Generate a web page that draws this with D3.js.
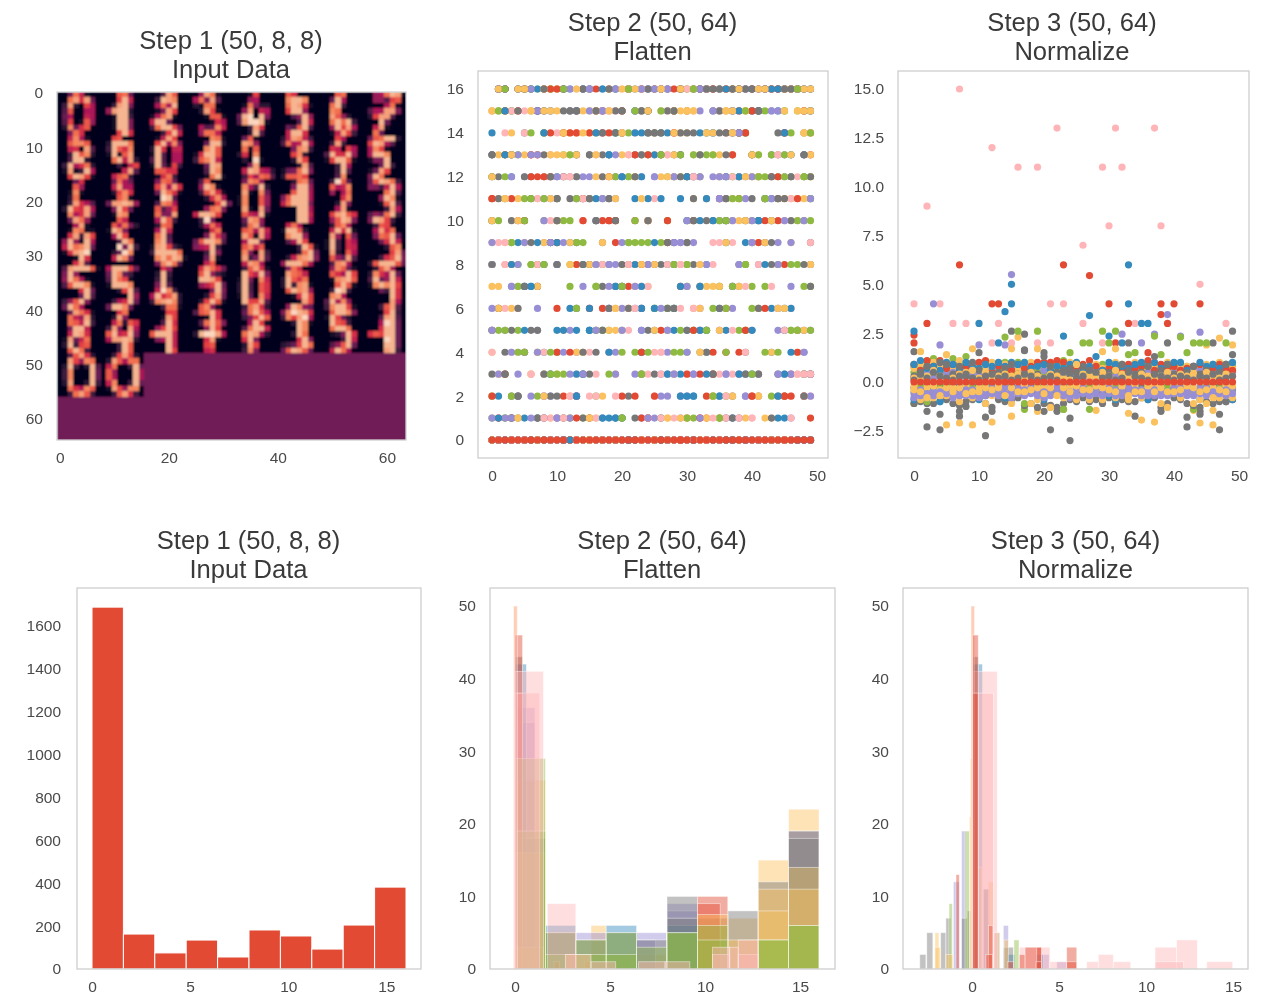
<!DOCTYPE html>
<html><head><meta charset="utf-8">
<script src="https://cdn.jsdelivr.net/npm/d3@7"></script>
<style>
html,body{margin:0;padding:0;background:#fff}
svg{display:block;filter:blur(0.4px)}
text{font-family:"Liberation Sans",Arial,sans-serif}
.tick text{font-size:15.5px;fill:#4a4a4a}
.title{font-size:25.6px;fill:#3a3a3a;text-anchor:middle}
</style></head><body>
<svg id="c" width="1267" height="1004"></svg>
<script>
// ---------- DATA ----------
const digits = [
"005d9100 00dfaf50 03f20b80 04c00880 05800980 04b01c70 02e5ac00 006da000",
"000cd500 000bg900 003fg600 07fgg200 001gg300 001gg600 001gg600 000bga00",
"0004fc00 003gfe00 008d8g00 0016fb00 018df100 09gg5000 03dggb50 0003bg90",
"007fd100 08d6f400 021dd000 002fb100 0001cc10 00001a80 00845e90 007dd900",
"0001b000 00078000 001d6220 007f0980 05ga0g60 04fgdg10 0003fa00 0002g400",
"00ca0000 00egge00 00dgfa10 00bgg700 00047g70 00004g90 0054cg40 009gga00",
"000cd000 005g8000 00dg3000 00ed0000 00fc7200 00dgdg30 007gbf80 0019fb30",
"0078dgf1 00774bc0 00008d10 0488ff60 02bff400 000g5000 009f1000 00d50000",
"009e8100 00ceec00 009a0f40 003gce20 004gg200 03g8ad20 01f13g80 00bgfb10",
"00bc0000 02gggd00 03gcae00 01g1cf00 00dg9f20 000309b0 00009f40 009cd300",
"0019fb00 00bg8e60 02ga0990 01g40880 04g40880 01g51b30 00ccaa00 001ad300",
"0000ed10 0005gg20 000egc00 01aggc00 03ceg900 0005gf00 0004ge00 0001dg10",
"005c1000 00fe7000 00d1c000 02a0e000 0020g100 0006f000 009gf982 003b8dc4",
"029fe930 04d89g80 0006ef30 000be200 0002fb00 00002f40 0156dg60 02ccdb00",
"000b8000 003f3000 00a90b80 04gaag70 01bggc10 0003g800 0003g400 0004e000",
"05cdgg20 0bgf8400 08eb1000 08gge000 0166g000 0005g300 015fb000 06gd1000",
"0005a000 000c7000 001e1000 002d0000 003fa840 02gbaf80 00e8af50 005fd700",
"005d8500 009f8800 002bea00 000ce100 05ffgf70 006gb500 001fe000 000c9000",
"006dc500 00bf8fa0 005gda10 000gg400 004ed800 00c47b00 00d66f00 008gc300",
"004c0000 007ge100 003cfa10 0002ae80 00001bg5 0007de60 09ggfb00 003a6000",
"006ed700 00e84g20 00f10e50 01e00c70 01e00c70 00f10f50 00c98g10 005fe700",
"0002de50 0006gg70 000cgg80 06cggg80 09dggg60 0000gg80 0000gg90 0000gg80",
"003dc400 00c89e00 00708d00 0000ae00 0002f600 0008f100 00bfgca0 007cgf60",
"05cgfd30 06639g80 0000dg40 0007ge10 0001cg40 00003f80 0475dg30 06gfb300",
"0008f100 001ed110 00af3fb0 07g71g80 09gdeg50 01afge00 0001ga00 000af400",
"00c8d620 01ge6000 008gb000 0004gd00 00006g30 0025ce00 009ge500 00000000",
"002dc000 008g9000 00dg4000 00eg5000 01fgb310 03ggggd0 00egdgf1 006egd40",
"0028d900 0001ad00 0006fa50 05cgge40 0689g300 0003g600 0005f100 0009c000",
"003df600 00cd8f90 00fc1f80 008gg500 00ce9c00 00e60f30 00f36f40 009fe800",
"009d8000 01ggc200 00egg700 0048gb00 00003gc1 00002dg5 0029efg6 07gggd80",
"002ce800 009gag10 00f70c50 01g30a80 01g30a90 00f20c80 00c75f40 004ef800",
"003cb100 008fad00 006dcg50 0005ag90 00002ce0 00000bf5 0003acg6 02cgggc5",
"04fgggc1 06g70000 07gd8100 04cgge10 0000ag50 00005g40 037cg600 05gd8000",
"08gggb50 05ge5300 04gdb100 01ggge00 0002bg40 00000g70 0038ag50 05gge500",
"000a7000 002g3000 003g2000 006g4000 009ge300 08gacf20 03efge20 0003dd10",
"00afda50 00cg7310 00ggfb00 0079bg50 00006g60 0002bf50 002bgc10 00ce7100",
"003cfa10 00gb9g60 01g60e90 02g40ca0 02g40ca0 01g50e90 00gbbf40 003dfa20",
"006da000 00fdc900 02gcad00 02g3ef10 00cgef70 0001agb0 00001fb0 007ge750",
"007ec510 00ca8gb0 001efgc0 000cgc10 003fg300 00ef8000 04g8e700 03eggb10",
"002cf800 02ea8g50 04g57g90 01egegb0 00053ga0 00000ga0 00000f80 0003cf40",
"005fda10 00d97f20 00dc9g30 006gg900 009gfa00 01f59d00 02g3bc00 00cgd300",
"000ad000 002f6000 009d2ca0 03f60f80 0cg9ag60 08ffgf20 0003gc00 0003gc00",
"0000bb00 0001fb00 0004ga00 007bgb00 0cggg900 0068g900 0000g900 0000gb00",
"04cdga00 0001ga00 004dgc60 0007gb00 02gggf80 000af100 000bc000 0009a000",
"005dgc80 0036bgc0 0008gb10 004dgg90 00dgf820 00ag6000 002fb000 003e6000",
"06eggfa0 03ebfg80 0002ge10 0000ge00 0002gd00 0000ag60 0235bgd0 05cgfc50",
"00cgge60 01gb5200 00gcb300 00dggd00 00126ga0 00003g90 0047cg50 009gd800",
"0000bg30 0004fg40 0008gg50 000agg50 0acbgg50 0000gg50 0000gg50 0000fg30",
"004cfa20 00fb7ed0 02g302g4 03e000g5 03e000g5 02f002g3 00da8ec0 003dfc30",
"003bfb20 02fc8dd0 09d003g5 0c7000g8 0c8000g8 09e003g5 01fb7ee0 003cfa30"
];
// the few palest cells of the image [row, column]
const palestCells = [[4,35],[5,35],[5,36],[12,36],[19,19],[23,27],[29,5],[28,11],[29,12],[16,51],[42,60],[45,60],[44,27],[44,28],[40,43],[41,45],[36,51],[36,19]];
const colorTop = 18.6;   // value that would reach the top of the palette
const fillValue = 5.3;
const palestValue = 17.6;
const cycle = ["#E24A33","#348ABD","#988ED5","#777777","#FBC15E","#8EBA42","#FFB5B8"];
const rocketStops = [0,.143,.286,.429,.571,.714,.857,1];
const rocketColors = ["#03051a","#35193e","#701f57","#ad1759","#e13342","#f37651","#f6b48f","#faebdd"];

const titles = [["Step 1 (50, 8, 8)","Input Data"],["Step 2 (50, 64)","Flatten"],["Step 3 (50, 64)","Normalize"]];

// Step 3 scatter: dense band, one value per sample per layer (read by eye)
const bandGrayLow = [-1.1,-1,-1.1,-1.1,-1,-.9,-1.1,-1.2,-1,-.9,-.8,-1.1,-1.3,-.9,-1,-.9,-.8,-1.2,-1.1,-1.3,-1.1,-1.2,-1.3,-1.1,-.9,-1,-.8,-1,-.9,-1.1,-.8,-1.1,-.9,-1,-1,-.8,-.9,-.8,-1.3,-1.1,-.8,-.9,-1.1,-1.2,-1.3,-1,-1.1,-1,-1,-.9];
const bandRedHigh = [.9,.6,1.1,.8,1.1,.7,.9,.6,.8,.7,1,1.1,.5,.8,.7,.6,.9,.7,.8,1,1,1,1.1,1,.6,.7,.9,1.1,.8,.6,.7,.8,.6,.9,.7,.8,1.1,.6,.9,.7,.8,.6,.7,.8,.9,.6,.7,.9,.7,.6];
const bandBlueHigh = [.9,1.1,.7,.8,.6,1,.9,.7,1,.8,.7,.9,.8,1,.8,1,.9,1,.7,.8,.9,.6,.8,.7,.9,1,.7,.8,1.3,.6,1,.9,.8,.7,.9,1,.8,1,.7,.9,1,1,.6,.8,1,.8,.9,.7,.9,1];
const bandGrayHigh = [.3,.5,.8,.6,1,.9,.4,.8,.3,1,.6,.3,.3,.5,.7,.9,.4,1.6,.5,.4,1.3,.8,.5,.6,.4,.5,.8,.6,.4,.3,.5,.6,.9,.6,.4,.5,.8,1.3,.6,.9,.4,.3,.5,.8,.4,.6,.3,.5,.9,1.4];
const bandGreenHigh = [.5,.4,1,1.2,.4,.5,1.2,.6,1.3,.5,.3,.4,.7,.9,.6,.5,1,.4,.7,.6,.5,.8,.6,1.1,.4,.7,.5,.4,.3,.6,.5,.7,.4,1.4,.5,.6,.9,.5,1.4,.4,.6,.8,.5,.6,.7,.5,.4,.5,.9,.6];
const bandOrangeHigh = [.2,.1,.3,.6,.3,1.4,.2,.4,.5,.6,.2,.5,.2,.3,.4,.3,.4,.2,.5,.3,.2,.4,.3,.2,.1,.9,.4,.3,.2,.5,.3,.6,.4,.3,.2,.4,.3,.2,.3,.5,.2,.4,.3,.4,.2,.5,.3,.2,.4,.3];
const bandPurpleLow = [-.6,-.7,-.6,-.5,-.5,-.4,-.6,-.5,-.7,-.4,-.6,-.5,-.3,-.4,-.6,-.5,-.3,-.4,-.6,-.4,-.5,-.7,-.6,-.5,-.8,-.4,-.6,-.5,-.3,-.7,-.6,-.4,-.5,-.3,-.6,-.4,-.5,-.7,-.4,-.5,-.6,-.3,-.5,-.4,-.6,-.3,-.5,-.6,-.7,-.6];
const bandOrangeLow = [-.2,-.9,-.3,-.8,-.4,-.7,-.3,-1,-.2,-.8,-.3,-1.1,-.7,-.2,-.4,-1.1,-.3,-.2,-1.1,-.9,-.3,-1.3,-.2,-.8,-.3,-.9,-.2,-.9,-.3,-.9,-.2,-.8,-.3,-.9,-.2,-.8,-.3,-.2,-1.1,-1.3,-.2,-.8,-.3,-1.1,-.9,-1.1,-.3,-.8,-.2,-.8];
const bandGreenLow = [-.5,-.2,-1,-.2,-.3,-.2,-.3,-.4,-.2,-.3,-.4,-.2,-.3,-.5,-.2,-.5,-.3,-1.1,-.4,-.2,-.3,-.4,-.3,-1.4,-.2,-.3,-.4,-.3,-.4,-.3,-.2,-.3,-.4,-.2,-.3,-.4,-.2,-.3,-.4,-.2,-.3,-.2,-.4,-.5,-.3,-.2,-.4,-.3,-.2,-.3];
const bandBlueLow = [-.9,-.3,-.4,-.3,-1,-.2,-.4,-.2,-.4,-.3,-.9,-.4,-.2,-.3,-.8,-.3,-.4,-.3,-.2,-.4,-.9,-.3,-.4,-.2,-.4,-.3,-.4,-.3,-.4,-.2,-.7,-.9,-.3,-.4,-.3,-.2,-.9,-.3,-.4,-.3,-.4,-.3,-.2,-.4,-.9,-.3,-.4,-.3,-.4,-.9];
const bandGrayMid = [.1,.4,.2,.5,.3,.2,.1,.3,.4,.2,.1,.3,.4,.2,.3,.1,.2,.4,.3,.1,.2,.3,.1,.5,.7,.2,.3,.6,.5,.2,.3,.1,.2,.5,.3,.2,.1,.4,.3,.2,.1,.3,.2,.1,.3,.2,.4,.1,.2,.3];
const bandOrangeUpper = [.7,.9,.6,1,.8,.9,.7,1.1,.6,.8,.9,.7,1,.8,.9,.7,.6,.9,1,.8,.7,.9,.8,.6,1,.9,.7,.8,.9,.7,.8,1,.7,.8,1,.9,.6,.8,.7,1,.9,.7,.8,.6,.8,.9,.7,1,.8,.7];
const bandGreenUpper = [.8,.7,.9,.4,.9,.6,.8,.9,.8,.6,.8,.6,.9,.6,1,.8,.6,.8,.5,.9,.8,.5,.9,.8,.7,.4,.8,.7,.6,.9,.8,.4,.9,.7,.6,.7,.5,.9,.7,.6,.7,.9,.8,.5,.8,.7,.9,.6,.6,.8];
const bandPurpleUpper = [.2,.3,.5,.2,.6,.4,.5,.2,.6,.3,.5,.2,.6,.3,.2,.7,.3,.5,.2,.3,.6,.2,.4,.3,.5,.3,.2,.2,.6,.4,.2,.3,.6,.2,.6,.3,.5,.4,.2,.3,.5,.6,.2,.3,.6,.3,.5,.7,.3,.5];
const bandPurpleLower = [-.8,-.4,-.8,-.7,-.7,-.6,-.8,-.7,-.4,-.7,-.8,-.7,-.6,-.7,-.3,-.8,-.6,-.7,-.3,-.7,-.8,-.4,-.3,-.7,-.5,-.7,-.3,-.7,-.6,-.4,-.3,-.7,-.7,-.6,-.4,-.7,-.7,-.4,-.7,-.7,-.3,-.6,-.7,-.7,-.3,-.7,-.7,-.4,-.4,-.3];
const bandGrayNeg = [-.3,-.5,-.2,-.6,-.2,-.3,-.2,-.7,-.5,-.2,-.2,-.7,-.5,-.6,-.4,-.2,-.6,-.3,-.2,-.6,-.2,-.5,-.5,-.3,-.6,-.5,-.5,-.2,-.6,-.5,-.4,-.2,-.6,-.5,-.5,-.3,-.3,-.5,-.2,-.3,-.5,-.5,-.6,-.3,-.4,-.5,-.2,-.2,-.3,-.4];
const bandOrangeLower = [-.4,-.5,-.8,-.2,-.7,-.3,-.5,-.3,-.6,-.5,-.5,-.3,-.4,-.3,-.7,-.3,-.5,-.5,-.4,-.3,-.6,-.3,-.7,-.3,-.5,-.2,-.4,-.4,-.2,-.3,-.4,-.5,-.2,-.7,-.5,-.5,-.2,-.5,-.3,-.5,-.5,-.4,-.2,-.3,-.5,-.4,-.8,-.4,-.5,-.2];
const bandRedZero = d3.range(50).map(() => 0);

// Step 3 scatter: readable points outside the band [sample, value]
const outliersRed = [[7,6],[23,6],[27,5.45],[2,3],[12,4],[13,4],[30,4],[38,4],[40,4],[39,3],[38,3.45],[44,4],[33,3],[0,2],[0,2.4],[31,2],[36,1.5]];
const outliersBlue = [[0,2.6],[15,5],[15,4],[14,3.6],[13,2],[10,3],[33,6],[33,4],[27,3.4],[23,2.35],[30,2.35],[35,3],[36,3],[32,2]];
const outliersPurple = [[15,5.5],[3,4],[4,1.9],[10,1.9],[39,3.45],[44,2.55],[32,2.45],[14,1.9],[35,2],[41,2.35],[37,2.45]];
const outliersPink = [[7,15],[2,9],[12,12],[22,13],[31,13],[37,13],[16,11],[19,11],[29,11],[32,11],[30,8],[38,8],[26,7],[0,4],[4,4],[6,3],[8,3],[13,3],[12,2],[21,4],[23,4],[21,2],[26,3],[44,5],[48,3],[34,3],[15,2],[19,2],[29,2]];
const outliersGreen = [[16,2.6],[19,2.6],[29,2.6],[31,2.6],[14,2.3],[37,2.35],[41,2.3],[26,2],[27,2],[30,2],[43,2],[44,2],[45,2],[48,2],[42,1.5],[34,1.5],[24,1.5],[23,-1.4],[27,-1.4],[43,-1.4],[17,-1.4],[0,-1.1]];
const outliersGray = [[15,2.6],[49,2.6],[17,2.45],[17,1.65],[39,2],[46,2],[33,2],[0,1.55],[10,1.5],[20,1.5],[2,-2.3],[4,-2.45],[2,-1.5],[4,-1.65],[7,-1.5],[7,-1.75],[8,-1.25],[11,-1.8],[11,-2.75],[12,-1.5],[21,-2.45],[24,-3],[24,-1.85],[22,-1.5],[20,-1.5],[34,-1.75],[38,-1.5],[42,-2.3],[42,-1.8],[44,-1.5],[44,-1.65],[47,-2.45],[47,-1.65],[48,-1]];
const outliersOrange = [[5,-2.2],[7,-2.1],[9,-2.2],[12,-2.05],[15,-1.75],[35,-1.95],[37,-2.05],[44,-2.1],[46,-2.2],[46,-1.45],[28,-1.45],[33,-1.6],[19,-1.5],[43,-1.45],[1,1.55],[9,1.7],[15,1.7],[16,2.3],[47,2.25],[49,1.9],[19,1.7],[29,1.55],[31,1.7],[45,1.9]];

// Step 1 histogram
const hist1Edges = [0,1.6,3.2,4.8,6.4,8,9.6,11.2,12.8,14.4,16];
const hist1Counts = [1688,163,75,135,56,182,154,93,205,382];

// Step 2 histograms: [from, to, count]
const h2Tan = [[-.08,.12,50]];
const h2Red = [[0,.4,46],[.95,1.15,2],[2.05,2.35,1],[3.65,4,1],[9.6,11.2,10]];
const h2Red2 = [[0,.4,38],[9.6,10.8,9]];
const h2Blue = [[0,.6,42],[1.6,3.2,6],[4.8,6.4,6],[8,9.6,6],[14.4,16,14]];
const h2Purple = [[0,1.05,36],[1.6,3.2,5],[3.2,4.8,5],[6.4,8,5],[8,9.6,9],[14.4,16,19]];
const h2Purple2 = [[0,1.05,34],[6.4,7.4,4],[8,9.6,8]];
const h2Gray = [[0,.4,43],[1.6,3.2,5],[3.2,4.8,4],[4.8,6.4,5],[6.4,8,4],[8,9.6,10],[11.2,12.8,8],[12.8,14.4,12],[14.4,16,19]];
const h2Gray2 = [[0,1.6,18],[8,9.6,7],[9.6,11.2,7],[14.4,16,18]];
const h2Orange = [[0,1.6,26],[4,4.8,6],[4.8,6.4,2],[6.4,8,2],[11.2,12.8,7],[12.8,14.4,15],[14.4,16,22]];
const h2Orange2 = [[0,1.6,16],[9.6,11.2,7.5],[11.2,12.8,4],[12.8,14.4,11],[14.4,16,14]];
const h2Orange3 = [[0,1.5,3],[2.65,3.95,2],[12.8,14.4,8],[14.4,16,11]];
const h2Green = [[0,1.6,29],[1.6,3.2,5],[3.2,4.8,4],[4.8,6.4,5],[6.4,8,3],[8,9.6,5],[9.6,11.2,6],[12.8,14.4,4],[14.4,16,6]];
const h2Green2 = [[0,1.6,19],[1.6,3.2,2],[3.2,4.8,2],[4.8,6.4,2],[8,9.6,5],[9.6,11.2,4],[12.8,14.4,4],[14.4,16,6]];
const h2Pink = [[0,1.5,41],[1.7,3.2,9],[2.65,4,2],[4,5.3,1],[6.5,7.9,1],[7.9,9.2,1],[10.4,11.3,3],[11.3,11.75,3],[11.75,12.8,4]];
const h2Pink2 = [[0,1.3,38],[11.75,12.8,2],[10.4,11.3,2]];

// Step 3 histograms: [from, to, count]
const h3Tan = [[-.06,.15,50]];
const h3Red = [[.04,.36,46],[-.92,-.73,13],[.95,1.2,6],[.8,1.17,2],[2.03,2.38,1],[2.72,3.05,2],[3.05,4,3],[3.72,4,3],[3.68,4,1],[5.44,6.02,3],[5.44,6.02,1]];
const h3Red2 = [[.04,.36,38]];
const h3Blue = [[.04,.6,42],[2.03,2.47,2],[3.68,4.1,2]];
const h3Purple = [[-.6,-.35,19],[-1.07,-.73,12],[.65,1,11],[1.8,2.09,6],[3.91,4.43,2],[4.87,5.44,1]];
const h3Gray = [[.04,.36,43],[-3,-2.65,2],[-2.6,-2.25,5],[-1.8,-1.5,5],[-1.5,-1.22,7],[-.6,-.27,7],[-.27,-.02,8],[.65,1,11],[1.8,2.38,3]];
const h3Orange = [[-.1,.04,29],[-.15,-.02,21],[-2.13,-1.9,5],[-2.13,-1.8,3],[-1.5,-1.1,2],[.36,.56,14],[.94,1.23,12],[1.84,2.09,4]];
const h3Green = [[-.4,-.15,19],[-1.32,-1.13,9],[1.32,1.6,5],[2.41,2.7,4]];
const h3Pink = [[.04,1.45,41],[.36,1.23,38],[1.23,1.6,5],[2.72,4.48,3],[4.48,5.44,1],[6.59,7.26,1],[7.26,8.12,2],[8.12,9.12,1],[10.52,11.76,3],[11.76,12.95,4],[10.52,12.15,1],[13.49,14.98,1]];

// ---------- DRAW ----------
const [RED,BLUE,PURPLE,GRAY,ORANGE,GREEN,PINK] = cycle;
const svg = d3.select("#c");
const minus = s => String(s).replace("-","\u2212");

function frame(b){
  svg.append("rect").attr("x",b.l).attr("y",b.t).attr("width",b.r-b.l).attr("height",b.b-b.t)
     .attr("fill","none").attr("stroke","#cccccc").attr("stroke-width",1.25);
}
function axes(b,x,y,xt,yt,yf,pad){
  const gx = svg.append("g").attr("transform",`translate(0,${b.b})`)
    .call(d3.axisBottom(x).tickValues(xt).tickSize(0).tickPadding(12).tickFormat(d3.format("d")));
  gx.select(".domain").remove();
  const gy = svg.append("g").attr("transform",`translate(${b.l},0)`)
    .call(d3.axisLeft(y).tickValues(yt).tickSize(0).tickPadding(pad||14).tickFormat(yf||d3.format("d")));
  gy.select(".domain").remove();
}
function title(cx,yBase,lines){
  lines.forEach((t,i)=>svg.append("text").attr("class","title").attr("x",cx).attr("y",yBase+i*29.3).text(t));
}

// Panel 1: montage heatmap
const pix = digits.map(s=>s.split(" ").map(r=>Array.from(r).map(c=>parseInt(c,17))));
const pale = new Set(palestCells.map(([r,c])=>r+"_"+c));
const mont = [];
for(let r=0;r<64;r++) for(let c=0;c<64;c++){
  const bi = Math.floor(r/8)*8+Math.floor(c/8);
  const v = bi<pix.length ? pix[bi][r%8][c%8] : fillValue;
  mont.push({r,c,v: pale.has(r+"_"+c) ? palestValue : v});
}
{
  const b={l:57,r:406,t:92,b:440};
  const x=d3.scaleLinear().domain([-.5,63.5]).range([b.l,b.r]);
  const y=d3.scaleLinear().domain([-.5,63.5]).range([b.t,b.b]);
  const col=d3.scaleLinear().domain(rocketStops.map(d=>d*colorTop)).range(rocketColors).interpolate(d3.interpolateLab);
  const defs=svg.append("defs");
  defs.append("filter").attr("id","soft").attr("x","0").attr("y","0").attr("width","1").attr("height","1")
    .append("feGaussianBlur").attr("stdDeviation",0.8).attr("edgeMode","duplicate");
  const clip=defs.append("clipPath").attr("id","imgclip");
  clip.append("rect").attr("x",b.l).attr("y",b.t).attr("width",b.r-b.l).attr("height",b.b-b.t);
  svg.append("g").attr("clip-path","url(#imgclip)").append("g").attr("filter","url(#soft)")
    .selectAll("rect").data(mont).join("rect")
    .attr("shape-rendering","crispEdges")
    .attr("x",d=>x(d.c-.5)).attr("y",d=>y(d.r-.5))
    .attr("width",x(1)-x(0)+1).attr("height",y(1)-y(0)+1)
    .attr("fill",d=>col(d.v));
  frame(b);
  const yl=d3.scaleLinear().domain([-.5,63.5]).range([b.t-2,b.b-2]);
  axes(b,x,yl,[0,20,40,60],[0,10,20,30,40,50,60]);
  title(231,49,titles[0]);
}

// Panel 2: flattened scatter (feature j of each sample)
{
  const b={l:478,r:828,t:71,b:458};
  const x=d3.scaleLinear().domain([0,50]).range([492,817]);
  const y=d3.scaleLinear().domain([0,16]).range([440,89]);
  frame(b);
  for(let j=0;j<64;j++){
    svg.append("g").attr("fill",cycle[j%7]).selectAll("circle")
      .data(pix.map((p,i)=>({i,v:p[Math.floor(j/8)][j%8]}))).join("circle")
      .attr("cx",d=>x(d.i)).attr("cy",d=>y(d.v)).attr("r",3.6);
  }
  axes(b,x,y,d3.range(0,51,10),d3.range(0,17,2));
  title(652.5,31,titles[1]);
}

// Panel 3: normalized scatter
{
  const b={l:898,r:1249,t:71,b:458};
  const x=d3.scaleLinear().domain([0,50]).range([914,1239]);
  const y=d3.scaleLinear().domain([0,15]).range([382,89]);
  frame(b);
  const dots=(pts,c)=>svg.append("g").attr("fill",c).selectAll("circle").data(pts).join("circle")
     .attr("cx",d=>x(d[0])).attr("cy",d=>y(d[1])).attr("r",3.6);
  const band=a=>a.map((v,i)=>[i,v]);
  dots(outliersPink,PINK); dots(outliersRed,RED); dots(outliersBlue,BLUE); dots(outliersPurple,PURPLE);
  dots(outliersGray,GRAY); dots(outliersOrange,ORANGE); dots(outliersGreen,GREEN);
  [[bandGrayLow,GRAY],[bandGreenUpper,GREEN],[bandGreenHigh,GREEN],[bandBlueLow,BLUE],[bandOrangeUpper,ORANGE],[bandPurpleUpper,PURPLE],[bandRedHigh,RED],[bandBlueHigh,BLUE],[bandGrayHigh,GRAY],
   [bandOrangeHigh,ORANGE],[bandGrayNeg,GRAY],[bandGreenLow,GREEN],[bandOrangeLow,ORANGE],[bandPurpleLower,PURPLE],[bandPurpleLow,PURPLE],[bandOrangeLower,ORANGE],[bandGrayMid,GRAY],[bandRedZero,RED]]
   .forEach(([a,c])=>dots(band(a),c));
  axes(b,x,y,d3.range(0,51,10),d3.range(-2.5,15.1,2.5),d=>minus(d3.format(".1f")(d)));
  title(1072,31,titles[2]);
}

// Panel 4: overall histogram
{
  const b={l:77,r:421,t:588,b:969};
  const x=d3.scaleLinear().domain([0,16]).range([92,406]);
  const y=d3.scaleLinear().domain([0,1600]).range([969,626]);
  svg.append("g").selectAll("rect").data(hist1Counts).join("rect")
    .attr("x",(d,i)=>x(hist1Edges[i])).attr("width",(d,i)=>x(hist1Edges[i+1])-x(hist1Edges[i]))
    .attr("y",d=>y(d)).attr("height",d=>y(0)-y(d))
    .attr("fill",RED).attr("stroke","#fff").attr("stroke-width",1);
  frame(b);
  axes(b,x,y,[0,5,10,15],d3.range(0,1601,200),null,16);
  title(248.5,549,titles[0]);
}

function overlayHist(b,x,y,series){
  series.forEach(([bars,c])=>{
    svg.append("g").selectAll("rect").data(bars).join("rect")
      .attr("x",d=>x(d[0])).attr("width",d=>x(d[1])-x(d[0]))
      .attr("y",d=>y(d[2])).attr("height",d=>y(0)-y(d[2]))
      .attr("fill",c).attr("fill-opacity",.45)
      .attr("stroke","#fff").attr("stroke-opacity",.55).attr("stroke-width",.8);
  });
  frame(b);
  axes(b,x,y,[0,5,10,15],d3.range(0,51,10));
}
// Panel 5
{
  const b={l:490,r:835,t:588,b:969};
  const x=d3.scaleLinear().domain([0,15]).range([515,800]);
  const y=d3.scaleLinear().domain([0,50]).range([969,606]);
  overlayHist(b,x,y,[[h2Tan,ORANGE],[h2Orange,ORANGE],[h2Purple,PURPLE],[h2Purple2,PURPLE],[h2Blue,BLUE],[h2Gray,GRAY],[h2Gray2,GRAY],[h2Red,RED],[h2Red2,RED],
    [h2Orange2,ORANGE],[h2Orange3,ORANGE],[h2Green,GREEN],[h2Green2,GREEN],[h2Pink2,PINK],[h2Pink,PINK],[h2Tan,PINK]]);
  title(662,549,titles[1]);
}
// Panel 6
{
  const b={l:903,r:1248,t:588,b:969};
  const x=d3.scaleLinear().domain([0,15]).range([972,1233]);
  const y=d3.scaleLinear().domain([0,50]).range([969,606]);
  overlayHist(b,x,y,[[h3Tan,ORANGE],[h3Purple,PURPLE],[h3Blue,BLUE],[h3Gray,GRAY],[h3Green,GREEN],[h3Orange,ORANGE],[h3Pink,PINK],[h3Tan,PINK],[h3Red,RED],[h3Red2,RED]]);
  title(1075.5,549,titles[2]);
}
</script>
</body></html>
